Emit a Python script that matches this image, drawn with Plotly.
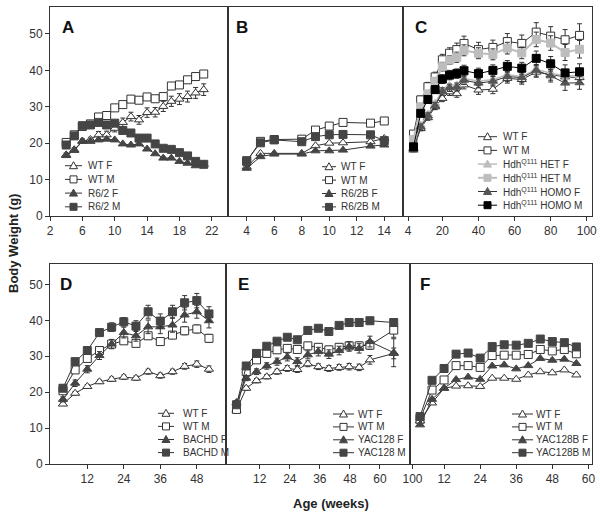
import plotly.graph_objects as go

# ---------------- data ----------------
A_weeks = [4, 5, 6, 7, 8, 9, 10, 11, 12, 13, 14, 15, 16, 17, 18, 19, 20, 21]
A_WT_F = [16.8, 18.2, 20.6, 21.0, 22.3, 22.3, 24.1, 25.7, 27.3, 26.4, 28.4, 28.5, 30.1, 31.5, 32.1, 32.8, 33.8, 34.7]
A_WT_F_err = [0.5, 0.5, 0.6, 0.6, 0.9, 1.0, 1.0, 1.2, 1.2, 1.2, 1.3, 1.3, 1.4, 1.4, 1.5, 1.5, 1.5, 1.6]
A_WT_M = [20.2, 22.3, 24.6, 25.3, 27.2, 27.6, 29.7, 30.6, 32.1, 31.8, 32.7, 32.2, 32.8, 35.7, 36.0, 37.4, 38.3, 39.0]
A_R62_F = [16.6, 18.0, 20.5, 20.5, 20.9, 21.1, 20.9, 19.8, 19.5, 19.8, 18.4, 17.1, 15.9, 15.9, 15.0, 14.5, 13.8, 14.2]
A_R62_M = [19.5, 22.0, 24.8, 25.0, 25.7, 25.0, 25.5, 23.5, 22.8, 21.4, 21.4, 19.8, 18.6, 18.3, 17.4, 16.5, 15.0, 14.2]

B_weeks = [4, 5, 6, 8, 9, 10, 11, 13, 14]
B_WT_F = [13.5, 17.2, 17.2, 17.2, 19.3, 20.0, 20.1, 20.4, 21.3]
B_WT_M = [15.0, 20.5, 21.0, 21.1, 23.6, 24.7, 25.7, 25.5, 26.1]
B_R62B_F = [13.1, 16.3, 17.0, 17.0, 17.9, 17.9, 18.1, 19.2, 19.5]
B_R62B_M = [15.2, 20.1, 20.9, 20.4, 21.8, 22.3, 22.4, 22.3, 20.7]

C_weeks = [4, 8, 12, 16, 20, 24, 28, 32, 40, 48, 56, 64, 72, 80, 88, 96]
C_WT_F = [18.5, 24.0, 27.0, 30.0, 32.3, 34.1, 33.6, 36.0, 34.6, 34.8, 37.8, 37.5, 39.5, 38.8, 38.2, 38.0]
C_WT_F_err = [0.5, 0.6, 0.7, 0.8, 0.9, 1.0, 1.0, 1.1, 1.2, 1.2, 1.3, 1.3, 1.4, 1.5, 1.5, 1.6]
C_WT_M = [22.5, 31.9, 35.5, 38.2, 42.9, 44.7, 45.7, 47.4, 45.7, 46.3, 47.9, 47.4, 50.5, 49.4, 48.4, 49.6]
C_WT_M_err = [0.8, 1.0, 1.2, 1.3, 1.5, 1.5, 1.8, 2.0, 2.0, 2.0, 2.2, 2.3, 2.6, 2.6, 2.8, 3.2]
C_HET_F = [18.8, 25.0, 28.0, 31.0, 34.6, 35.8, 36.0, 37.8, 37.0, 37.5, 38.8, 38.3, 40.3, 39.2, 38.5, 38.5]
C_HET_M = [21.0, 30.0, 33.5, 37.0, 41.0, 42.8, 43.6, 45.5, 44.7, 44.4, 46.1, 44.8, 48.5, 47.5, 44.9, 45.8]
C_HET_M_err = [0.6, 0.8, 1.0, 1.0, 1.2, 1.2, 1.4, 1.5, 1.5, 1.5, 1.6, 1.6, 2.0, 2.0, 2.2, 2.4]
C_HOMO_F = [18.1, 24.5, 27.5, 30.3, 34.2, 35.2, 35.4, 37.3, 36.5, 37.0, 38.3, 38.0, 40.0, 38.5, 36.5, 36.6]
C_HOMO_F_err = [0.5, 0.7, 0.8, 0.9, 1.0, 1.0, 1.1, 1.2, 1.3, 1.3, 1.4, 1.4, 1.6, 1.7, 2.0, 1.8]
C_HOMO_M = [19.0, 28.2, 32.0, 34.7, 37.6, 38.7, 39.1, 39.9, 39.1, 40.0, 41.1, 40.6, 43.3, 41.8, 39.3, 39.6]
C_HOMO_M_err = [0.5, 0.8, 1.0, 1.0, 1.2, 1.3, 1.3, 1.5, 1.5, 1.5, 1.6, 1.6, 2.0, 2.0, 2.2, 2.2]

D_weeks = [4, 8, 12, 16, 20, 24, 28, 32, 36, 40, 44, 48, 52]
D_WT_F = [16.7, 19.7, 21.6, 22.9, 23.6, 24.2, 23.9, 25.7, 24.6, 25.7, 27.2, 27.8, 26.4]
D_WT_F_err = [0.4, 0.5, 0.5, 0.5, 0.6, 0.6, 0.6, 0.7, 0.7, 0.7, 0.8, 0.9, 0.9]
D_WT_M = [20.4, 26.2, 29.4, 31.6, 33.4, 34.3, 33.6, 35.7, 34.1, 35.9, 37.1, 37.6, 35.0]
D_WT_M_err = [0.5, 0.6, 0.7, 0.7, 0.8, 0.8, 0.9, 0.9, 1.0, 1.0, 1.1, 1.1, 1.1]
D_BACHD_F = [18.0, 22.5, 26.4, 30.2, 33.4, 36.6, 35.7, 38.2, 38.2, 38.7, 41.5, 42.4, 39.9]
D_BACHD_F_err = [0.7, 0.9, 1.0, 1.1, 1.3, 1.5, 1.5, 1.9, 1.9, 2.0, 2.0, 1.8, 2.0]
D_BACHD_M = [21.1, 28.5, 31.6, 36.6, 38.1, 39.6, 38.4, 42.4, 39.8, 42.4, 44.9, 45.5, 41.8]
D_BACHD_M_err = [0.8, 1.0, 1.0, 1.0, 1.2, 1.2, 1.5, 1.8, 2.0, 1.8, 2.0, 2.0, 2.0]

E_weeks = [2.7, 6.6, 10.7, 14.8, 18.9, 23.0, 27.0, 31.2, 35.4, 39.6, 43.7, 47.7, 51.7, 56.0, 65.5]
E_WT_F = [15.0, 21.1, 23.2, 24.3, 25.7, 26.6, 26.3, 27.9, 27.1, 26.6, 26.9, 27.1, 26.9, 29.0, 30.8]
E_WT_F_err = [0.5, 0.6, 0.6, 0.6, 0.7, 0.8, 0.8, 0.8, 0.8, 0.8, 0.8, 0.9, 0.9, 1.2, 1.5]
E_WT_M = [15.2, 25.7, 29.0, 30.8, 31.8, 32.2, 31.9, 32.9, 32.5, 31.8, 32.5, 32.9, 32.9, 33.1, 37.3]
E_WT_M_err = [0.5, 0.7, 0.8, 0.8, 0.9, 0.9, 0.9, 1.0, 1.0, 1.0, 1.0, 1.1, 1.1, 1.2, 2.0]
E_YAC_F = [17.1, 23.9, 25.7, 27.3, 28.5, 29.8, 28.5, 30.4, 31.3, 30.6, 31.6, 32.7, 32.2, 34.1, 31.0]
E_YAC_F_err = [0.6, 0.7, 0.8, 0.9, 1.0, 1.1, 1.1, 1.1, 1.2, 1.2, 1.2, 1.3, 1.3, 1.5, 3.9]
E_YAC_M = [16.5, 27.3, 30.8, 32.8, 34.2, 35.3, 34.6, 37.2, 37.8, 36.9, 38.6, 39.4, 39.4, 39.9, 39.4]

F_weeks = [4, 8, 12, 16, 20, 24, 28, 32, 36, 40, 44, 48, 52, 56]
F_WT_F = [12.0, 17.0, 21.1, 21.7, 21.8, 21.6, 23.9, 23.9, 23.6, 24.8, 25.7, 25.4, 26.2, 24.8]
F_WT_M = [12.5, 20.6, 23.4, 27.4, 27.4, 26.9, 30.2, 30.3, 30.3, 30.5, 31.9, 31.5, 31.9, 30.7]
F_YAC_F = [10.9, 18.0, 21.1, 23.5, 24.2, 23.6, 27.3, 27.6, 26.5, 27.4, 29.4, 28.9, 29.2, 28.0]
F_YAC_M = [13.2, 23.3, 26.6, 30.6, 30.9, 29.5, 32.7, 33.2, 33.1, 33.6, 34.8, 34.1, 33.8, 32.6]

A_ticks = [2, 6, 10, 14, 18, 22]
B_ticks = [4, 6, 8, 10, 12, 14]
C_tickvals = [1, 20, 40, 60, 80, 100]
C_ticktext = ["4", "20", "40", "60", "80", "100"]
D_ticks = [12, 24, 36, 48]
E_ticks = [12, 24, 36, 48, 60]
F_tickvals = [1.5, 12, 24, 36, 48, 60]
F_ticktext = ["100", "12", "24", "36", "48", "60"]
Y_ticks = [0, 10, 20, 30, 40, 50]

# ---------------- styling ----------------
FONT = "Arial, Liberation Sans, Helvetica, sans-serif"
LEG_FONT = "Liberation Sans Narrow, Arial Narrow, Arial, Liberation Sans, sans-serif"
LINE = "#333333"
DARK = "#454545"
BLACK = "#000000"
LIGHT = "#bdbdbd"
MID = "#555555"

STY = {
    "wtf": dict(sym="triangle-up", fill="white", edge=LINE, linec=LINE, lw=1, size=8),
    "wtm": dict(sym="square", fill="white", edge=LINE, linec=LINE, lw=1, size=8),
    "mf": dict(sym="triangle-up", fill=DARK, edge=DARK, linec=LINE, lw=1, size=8),
    "mm": dict(sym="square", fill=DARK, edge=DARK, linec=LINE, lw=1, size=8),
    "hetf": dict(sym="triangle-up", fill=LIGHT, edge=LIGHT, linec=LIGHT, lw=1.5, size=8),
    "hetm": dict(sym="square", fill=LIGHT, edge=LIGHT, linec=LIGHT, lw=2, size=8),
    "homof": dict(sym="triangle-up", fill=MID, edge=MID, linec=LINE, lw=1, size=8),
    "homom": dict(sym="square", fill=BLACK, edge=BLACK, linec=BLACK, lw=1, size=8),
}

# panel -> (axis suffix, series list, legend geometry in px: line x0, line x1, text x, first row y, row step)
PANELS = [
    ("", [(A_weeks, A_WT_F, "WT F", "wtf", A_WT_F_err),
          (A_weeks, A_WT_M, "WT M", "wtm", None),
          (A_weeks, A_R62_F, "R6/2 F", "mf", None),
          (A_weeks, A_R62_M, "R6/2 M", "mm", None)],
     (65, 82, 87, 165.7, 13.7)),
    ("2", [(B_weeks, B_WT_F, "WT F", "wtf", None),
           (B_weeks, B_WT_M, "WT M", "wtm", None),
           (B_weeks, B_R62B_F, "R6/2B F", "mf", None),
           (B_weeks, B_R62B_M, "R6/2B M", "mm", None)],
     (322, 336, 340, 166.7, 13.4)),
    ("3", [(C_weeks, C_WT_F, "WT F", "wtf", C_WT_F_err),
           (C_weeks, C_WT_M, "WT M", "wtm", C_WT_M_err),
           (C_weeks, C_HET_F, "Hdh<sup>Q111</sup> HET F", "hetf", None),
           (C_weeks, C_HET_M, "Hdh<sup>Q111</sup> HET M", "hetm", C_HET_M_err),
           (C_weeks, C_HOMO_F, "Hdh<sup>Q111</sup> HOMO F", "homof", C_HOMO_F_err),
           (C_weeks, C_HOMO_M, "Hdh<sup>Q111</sup> HOMO M", "homom", C_HOMO_M_err)],
     (478, 497, 502, 136.7, 13.7)),
    ("4", [(D_weeks, D_WT_F, "WT F", "wtf", D_WT_F_err),
           (D_weeks, D_WT_M, "WT M", "wtm", D_WT_M_err),
           (D_weeks, D_BACHD_F, "BACHD F", "mf", D_BACHD_F_err),
           (D_weeks, D_BACHD_M, "BACHD M", "mm", D_BACHD_M_err)],
     (158, 174, 182, 413.3, 13.1)),
    ("5", [(E_weeks, E_WT_F, "WT F", "wtf", E_WT_F_err),
           (E_weeks, E_WT_M, "WT M", "wtm", E_WT_M_err),
           (E_weeks, E_YAC_F, "YAC128 F", "mf", E_YAC_F_err),
           (E_weeks, E_YAC_M, "YAC128 M", "mm", None)],
     (333, 354, 357, 414, 12.9)),
    ("6", [(F_weeks, F_WT_F, "WT F", "wtf", None),
           (F_weeks, F_WT_M, "WT M", "wtm", None),
           (F_weeks, F_YAC_F, "YAC128B F", "mf", None),
           (F_weeks, F_YAC_M, "YAC128B M", "mm", None)],
     (512, 533, 535, 414, 12.9)),
]

W, H = 600, 517
L, R, T, B = 50, 8, 7, 53
PW, PH = W - L - R, H - T - B


def px_x(p):
    return (p - L) / PW


def px_y(p):
    return (H - B - p) / PH


fig = go.Figure()
shapes = []
annotations = []

TRI_PATH = "M-4,-3 L4,-3 L0,4 Z"
SQ_PATH = "M-3.5,-3.5 L3.5,-3.5 L3.5,3.5 L-3.5,3.5 Z"

for suffix, series, (lx0, lx1, tx, ry0, step) in PANELS:
    for i, (x, y, name, key, err) in enumerate(series):
        s = STY[key]
        fig.add_trace(go.Scatter(
            x=x, y=y, name=name, mode="lines+markers", showlegend=False,
            xaxis="x" + suffix, yaxis="y" + suffix,
            line=dict(color=s["linec"], width=s["lw"]),
            marker=dict(symbol=s["sym"], size=s["size"], color=s["fill"],
                        line=dict(color=s["edge"], width=1)),
            error_y=dict(type="data", array=err if err is not None else [],
                         visible=err is not None, color=LINE, thickness=1, width=2.5),
        ))
        # legend key (drawn in the figure, compact like the original)
        ry = ry0 + i * step
        shapes.append(dict(type="line", xref="paper", yref="paper",
                           x0=px_x(lx0), x1=px_x(lx1), y0=px_y(ry), y1=px_y(ry),
                           line=dict(color=s["linec"], width=s["lw"])))
        shapes.append(dict(type="path", xref="paper", yref="paper",
                           xsizemode="pixel", ysizemode="pixel",
                           xanchor=px_x((lx0 + lx1) / 2), yanchor=px_y(ry),
                           path=TRI_PATH if s["sym"] == "triangle-up" else SQ_PATH,
                           fillcolor=s["fill"], line=dict(color=s["edge"], width=1)))
        annotations.append(dict(text=name, xref="paper", yref="paper",
                                x=px_x(tx), y=px_y(ry), xanchor="left", yanchor="middle",
                                showarrow=False, borderpad=0,
                                font=dict(family=LEG_FONT, size=10, color="#333333")))

top_dom = [px_y(216), 1]
bot_dom = [0, px_y(264)]

ax_common = dict(showline=True, linecolor=LINE, linewidth=1, mirror=True, showgrid=False,
                 zeroline=False, ticks="outside", ticklen=4, tickcolor=LINE, tickwidth=1,
                 tickfont=dict(family=FONT, size=12, color="#333333"))


def xax(dom, rng, tv, tt, anchor):
    d = dict(ax_common, domain=dom, range=rng, tickvals=tv, anchor=anchor)
    if tt is not None:
        d["ticktext"] = tt
    return d


def yax(dom, rng, anchor, labels):
    d = dict(ax_common, domain=dom, range=rng, anchor=anchor)
    if labels:
        d["tickvals"] = Y_ticks
    else:
        d["showticklabels"] = False
        d["ticks"] = ""
    return d


xA = [0, px_x(228)]
xB = [px_x(228), px_x(403)]
xC = [px_x(403), 1]
xD = [0, px_x(225.7)]
xE = [px_x(225.7), px_x(410)]
xF = [px_x(410), 1]


def letter(t, xa, ya, xs):
    return dict(text="<b>%s</b>" % t, xref=xa + " domain", yref=ya + " domain", x=0, y=1,
                xanchor="left", yanchor="top", xshift=xs, yshift=-9, showarrow=False,
                font=dict(family=FONT, size=17, color="#111111"))


annotations += [
    letter("A", "x", "y", 10), letter("B", "x2", "y2", 6), letter("C", "x3", "y3", 10),
    letter("D", "x4", "y4", 8), letter("E", "x5", "y5", 10), letter("F", "x6", "y6", 8),
    dict(text="<b>Body Weight (g)</b>", textangle=-90, xref="paper", yref="paper",
         x=px_x(14), y=px_y(244), xanchor="center", yanchor="middle", showarrow=False,
         font=dict(family=FONT, size=13, color="#222222")),
    dict(text="<b>Age (weeks)</b>", xref="paper", yref="paper",
         x=px_x(331), y=px_y(503), xanchor="center", yanchor="middle", showarrow=False,
         font=dict(family=FONT, size=13, color="#222222")),
]

fig.update_layout(
    width=W, height=H, margin=dict(l=L, r=R, t=T, b=B, autoexpand=False),
    paper_bgcolor="white", plot_bgcolor="white", showlegend=False,
    font=dict(family=FONT, color="#333333"),
    xaxis=xax(xA, [2, 24], A_ticks, None, "y"),
    yaxis=yax(top_dom, [0, 57.4], "x", True),
    xaxis2=xax(xB, [2.64, 15.36], B_ticks, None, "y2"),
    yaxis2=yax(top_dom, [0, 57.4], "x2", False),
    xaxis3=xax(xC, [-1.8, 102.9], C_tickvals, C_ticktext, "y3"),
    yaxis3=yax(top_dom, [0, 57.4], "x3", False),
    xaxis4=xax(xD, [-0.26, 57.5], D_ticks, None, "y4"),
    yaxis4=yax(bot_dom, [0, 55.7], "x4", True),
    xaxis5=xax(xE, [-1.6, 72], E_ticks, None, "y5"),
    yaxis5=yax(bot_dom, [0, 55.7], "x5", False),
    xaxis6=xax(xF, [0.67, 61.2], F_tickvals, F_ticktext, "y6"),
    yaxis6=yax(bot_dom, [0, 55.7], "x6", False),
    shapes=shapes,
    annotations=annotations,
)

fig.write_html("out.html", config={"displayModeBar": False},
               post_script="document.body.style.margin='0px';")
